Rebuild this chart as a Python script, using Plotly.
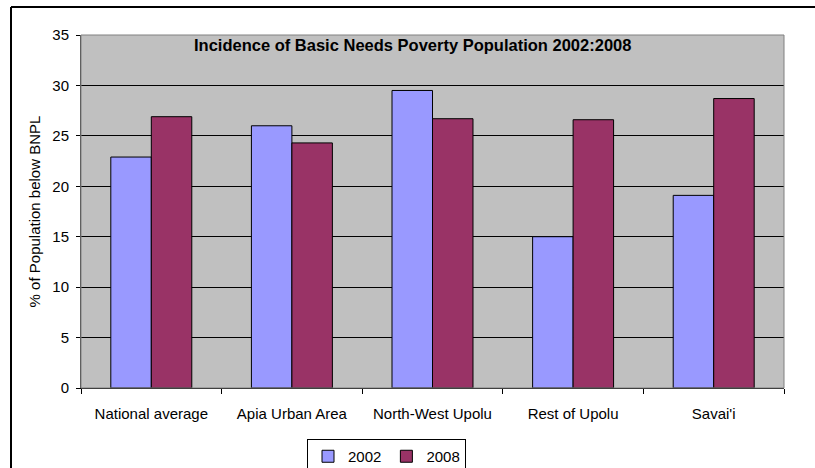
import plotly.graph_objects as go

categories = ["National average", "Apia Urban Area", "North-West Upolu", "Rest of Upolu", "Savai'i"]
values_2002 = [22.9, 26.0, 29.5, 15.0, 19.1]
values_2008 = [26.9, 24.3, 26.7, 26.6, 28.7]
y_ticks = [0, 5, 10, 15, 20, 25, 30, 35]

W, H = 815, 468
L, R, T, B = 81, 31, 35, 80
pw, ph = W - L - R, H - T - B

fig = go.Figure()
fig.add_trace(go.Bar(name="2002", x=categories, y=values_2002,
                     marker=dict(color="#9999FF", line=dict(color="#000000", width=1))))
fig.add_trace(go.Bar(name="2008", x=categories, y=values_2008,
                     marker=dict(color="#993366", line=dict(color="#000000", width=1))))

font = "Liberation Sans, Arial, sans-serif"

bx0 = (11 - L) / pw
by1 = 1 + (T - 7) / ph
fig.update_layout(
    width=W, height=H,
    margin=dict(l=L, r=R, t=T, b=B, pad=0, autoexpand=False),
    paper_bgcolor="white",
    plot_bgcolor="#C0C0C0",
    barmode="group",
    bargap=0.424,
    bargroupgap=0,
    font=dict(family=font, size=15, color="black"),
    showlegend=True,
    legend=dict(orientation="h", xref="container", yref="container",
                x=307 / W, y=1 - 439 / H,
                xanchor="left", yanchor="top",
                bordercolor="black", borderwidth=1,
                font=dict(size=15), itemwidth=30, tracegroupgap=0,
                bgcolor="white"),
    annotations=[dict(text="<b>Incidence of Basic Needs Poverty Population 2002:2008</b>",
                      xref="paper", yref="paper", x=(412 - L) / pw, y=1 - (45 - T) / ph,
                      xanchor="center", yanchor="middle", showarrow=False,
                      font=dict(size=16.5, family=font, color="black"))],
    shapes=[
        dict(type="rect", xref="paper", yref="paper", x0=0, x1=1, y0=0, y1=1,
             line=dict(color="#808080", width=1), fillcolor="rgba(0,0,0,0)", layer="above"),
        dict(type="line", xref="paper", yref="paper",
             x0=bx0, x1=(W - L) / pw, y0=by1, y1=by1,
             line=dict(color="black", width=2)),
        dict(type="line", xref="paper", yref="paper",
             x0=bx0, x1=bx0, y0=by1, y1=-(H - (T + ph)) / ph,
             line=dict(color="black", width=2)),
    ],
)

fig.update_xaxes(
    type="category",
    tickson="boundaries",
    ticks="outside", ticklen=5, tickcolor="black", tickwidth=1,
    showline=True, linecolor="black", linewidth=1,
    showgrid=False,
    tickfont=dict(size=15),
    ticklabelstandoff=12,
    automargin=False,
)
fig.update_yaxes(
    range=[0, 35], tickvals=y_ticks,
    ticks="outside", ticklen=4, tickcolor="black", tickwidth=1,
    showline=True, linecolor="#404040", linewidth=1,
    showgrid=True, gridcolor="black", gridwidth=1,
    zeroline=False,
    tickfont=dict(size=15),
    ticklabelstandoff=4,
    automargin=False,
    title=dict(text="% of Population below BNPL", font=dict(size=15), standoff=8),
)

fig.write_html("out.html",
               post_script="document.documentElement.style.overflow='hidden';document.body.style.overflow='hidden';")
